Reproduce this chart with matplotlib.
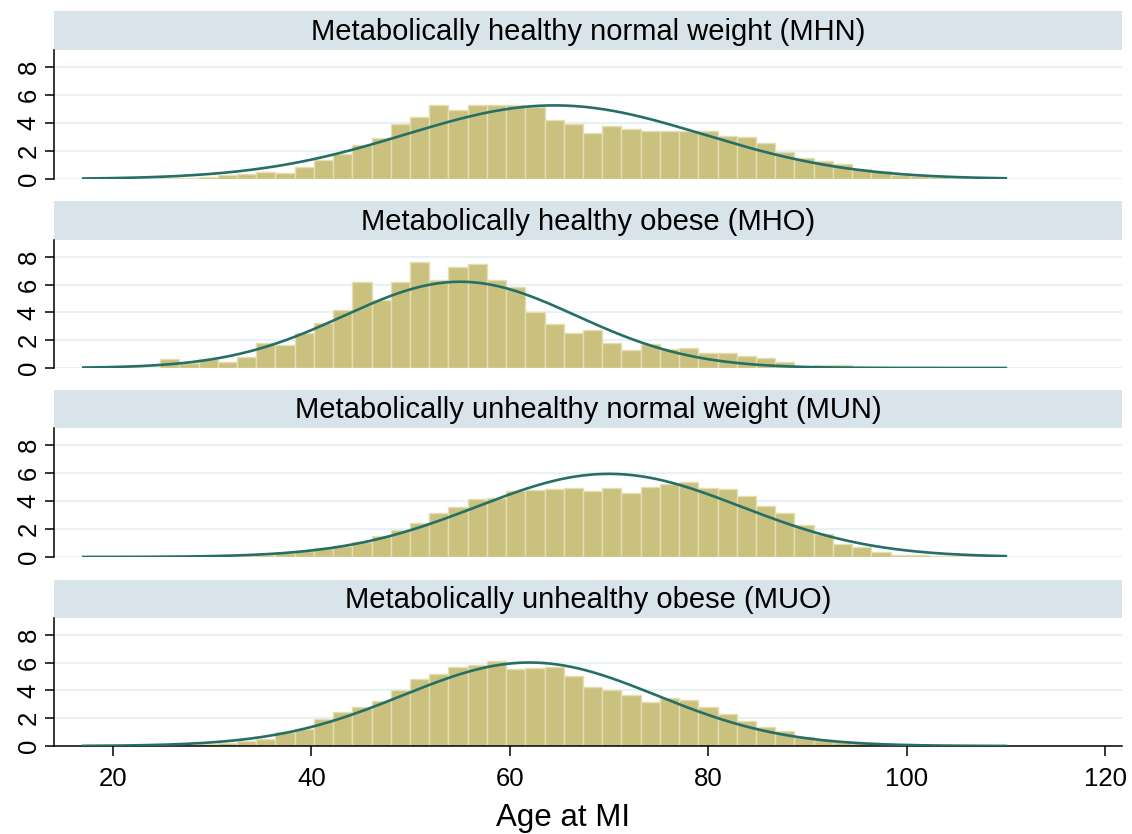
import numpy as np
import matplotlib
matplotlib.use("Agg")
import matplotlib.pyplot as plt

plt.rcParams['font.family'] = ['Liberation Sans', 'DejaVu Sans']

# ---- data ----
bin_start = 17.0
bin_width = 1.9375
n_bins = 48

titles = [
    "Metabolically healthy normal weight (MHN)",
    "Metabolically healthy obese (MHO)",
    "Metabolically unhealthy normal weight (MUN)",
    "Metabolically unhealthy obese (MUO)",
]

mhn = [0.0, 0.0, 0.02, 0.03, 0.05, 0.1, 0.15, 0.25, 0.33, 0.5, 0.45, 0.85,
       1.35, 1.8, 2.4, 2.9, 3.95, 4.4, 5.3, 4.9, 5.25, 5.3, 5.3, 5.15,
       4.2, 3.9, 3.3, 3.8, 3.55, 3.45, 3.45, 3.45, 3.45, 3.05, 3.0, 2.6,
       1.95, 1.5, 1.25, 1.1, 0.7, 0.6, 0.3, 0.2, 0.15, 0.1, 0.05, 0.02]
mho = [0.0, 0.0, 0.05, 0.02, 0.67, 0.33, 0.65, 0.42, 0.82, 1.82, 1.68, 2.55,
       3.25, 4.2, 6.2, 4.9, 6.2, 7.65, 6.3, 7.25, 7.5, 6.3, 5.8, 4.05,
       3.15, 2.5, 2.7, 1.8, 1.3, 1.7, 1.4, 1.45, 1.05, 1.1, 0.85, 0.7,
       0.45, 0.1, 0.2, 0.2, 0.07, 0.07, 0.03, 0.02, 0.0, 0.0, 0.0, 0.0]
mun = [0.0, 0.01, 0.01, 0.02, 0.02, 0.03, 0.05, 0.07, 0.1, 0.17, 0.26, 0.4,
       0.62, 0.8, 1.05, 1.48, 1.95, 2.4, 3.14, 3.6, 4.15, 4.2, 4.7, 4.8,
       4.85, 4.93, 4.74, 4.93, 4.57, 5.02, 5.2, 5.33, 4.93, 4.83, 4.38, 3.64,
       3.14, 2.3, 1.64, 0.93, 0.69, 0.33, 0.17, 0.14, 0.1, 0.07, 0.04, 0.02]
muo = [0.0, 0.01, 0.02, 0.03, 0.05, 0.08, 0.12, 0.2, 0.33, 0.52, 1.0, 1.19,
       1.95, 2.43, 2.79, 3.26, 4.02, 4.81, 5.21, 5.69, 5.81, 6.1, 5.52, 5.6,
       5.69, 5.0, 4.26, 4.02, 3.69, 3.19, 3.43, 3.29, 2.79, 2.31, 1.79, 1.4,
       1.05, 0.64, 0.4, 0.29, 0.21, 0.14, 0.1, 0.06, 0.04, 0.03, 0.02, 0.01]

# fitted normal curves: mean, sd, peak height (in displayed units)
curve_mean = [64.5, 55.0, 70.0, 62.0]
curve_sd = [15.0, 11.7, 13.3, 12.8]
curve_peak = [5.25, 6.2, 5.93, 6.0]
curve_range = (17.0, 110.0)

y_ticks = [0, 2, 4, 6, 8]
y_ticklabels = ["0", "2", "4", "6", "8"]
x_ticks = [20, 40, 60, 80, 100, 120]
x_label = "Age at MI"

series = [mhn, mho, mun, muo]

# ---- layout (pixel based) ----
W, H = 1132, 834
fig = plt.figure(figsize=(W / 100, H / 100), dpi=100)
fig.patch.set_facecolor("white")

left_px, right_px = 54, 1122
strips = [(11, 50), (201, 240), (390, 428), (580, 618)]
axes_px = [(50, 179), (240, 368), (428, 557), (618, 746)]

bar_face = "#cac17f"
bar_edge = "#e4dfb2"
curve_col = "#256f66"
grid_col = "#eaf1f3"
strip_col = "#d9e4ea"

edges = bin_start + bin_width * np.arange(n_bins + 1)
xs = np.linspace(curve_range[0], curve_range[1], 400)

def fx(px):
    return px / W

def fy(py):
    return 1 - py / H

for i in range(4):
    st, sb = strips[i]
    sax = fig.add_axes([fx(left_px), fy(sb), fx(right_px - left_px), (sb - st) / H])
    sax.set_facecolor(strip_col)
    for s in sax.spines.values():
        s.set_visible(False)
    sax.set_xticks([]); sax.set_yticks([])
    sax.text(0.5, 0.47, titles[i], ha="center", va="center", fontsize=21, transform=sax.transAxes)

    at, ab = axes_px[i]
    ax = fig.add_axes([fx(left_px), fy(ab), fx(right_px - left_px), (ab - at) / H])
    ax.set_xlim(14.05, 121.71)
    ax.set_ylim(0, 9.2)
    for y in y_ticks:
        ax.axhline(y, color=grid_col, lw=1.6, zorder=0)
    ax.bar(edges[:-1], series[i], width=bin_width, align="edge",
           color=bar_face, edgecolor=bar_edge, linewidth=1.0, zorder=2)
    yc = curve_peak[i] * np.exp(-0.5 * ((xs - curve_mean[i]) / curve_sd[i]) ** 2)
    ax.plot(xs, yc, color=curve_col, lw=1.9, zorder=3)

    ax.spines["top"].set_visible(False)
    ax.spines["right"].set_visible(False)
    ax.spines["left"].set_linewidth(1.1)
    ax.set_yticks(y_ticks)
    ax.set_yticklabels(y_ticklabels, rotation=90, va="center", fontsize=18.5)
    ax.tick_params(axis="y", length=6.5, width=1.1, pad=3)
    if i < 3:
        ax.spines["bottom"].set_visible(False)
        ax.set_xticks([])
    else:
        ax.spines["bottom"].set_linewidth(1.1)
        ax.set_xticks(x_ticks)
        ax.set_xticklabels([str(t) for t in x_ticks], fontsize=18.5)
        ax.tick_params(axis="x", length=7, width=1.1, pad=8)

fig.text(fx(563), fy(818), x_label, ha="center", va="center", fontsize=22.5)

fig.savefig("out.png", dpi=100)
